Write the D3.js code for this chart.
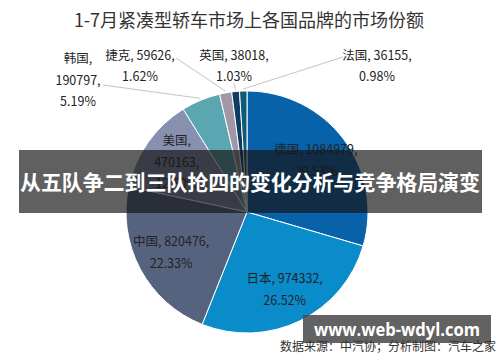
<!DOCTYPE html>
<meta charset="utf-8">
<head>
  <style>
    body { margin: 0; background: #fff; }
    svg { display: block; font-family: "Noto Sans CJK SC", "Noto Sans", sans-serif; }
    .title { font-size: 18px; fill: #333; }
    .lbl { font-size: 12.5px; fill: #222; }
    .lead { stroke: #c4c4c4; fill: none; stroke-width: 1; }
    .banner { fill: #fff; font-weight: bold; font-size: 21px; }
    .mark { fill: #fff; font-weight: bold; font-size: 18px; font-family: "Open Sans", "DejaVu Sans", sans-serif; }
    .src { font-size: 12px; fill: #333; }
  </style>
  <script src="https://cdn.jsdelivr.net/npm/d3@7"></script>
</head>
<body>
<script>

// data
var countries = ["德国", "日本", "中国", "美国", "韩国", "捷克", "英国", "法国"];
var sales = [1084979, 974332, 820476, 470163, 190797, 59626, 38018, 36155];
var shares = ["29.53%", "26.52%", "22.33%", "12.80%", "5.19%", "1.62%", "1.03%", "0.98%"];
var colors = ["#0762aa", "#0a8bca", "#56637f", "#8790ae", "#5aa6b1", "#a098a7", "#0c3b66", "#0f5a78"];

var width = 500, height = 362;
var cx = 247, cy = 212, radius = 121;

var svg = d3.select("body").append("svg")
    .attr("width", width)
    .attr("height", height);

svg.append("text")
    .attr("class", "title")
    .attr("x", 249).attr("y", 27)
    .attr("text-anchor", "middle")
    .text("1-7月紧凑型轿车市场上各国品牌的市场份额");

var pie = d3.pie().sort(null).value(function(d) { return d; });
var arcs = pie(sales);
var arc = d3.arc().innerRadius(0).outerRadius(radius);
var labelArc = d3.arc().innerRadius(86).outerRadius(86);

var g = svg.append("g").attr("transform", "translate(" + cx + "," + cy + ")");

g.selectAll("path")
  .data(arcs)
  .enter().append("path")
    .attr("d", arc)
    .attr("fill", function(d, i) { return colors[i]; })
    .attr("stroke", "#fff")
    .attr("stroke-width", 1);

// label text lines
function lines(i) {
  if (i == 3 || i == 4) return [countries[i] + ",", sales[i] + ",", shares[i]];
  return [countries[i] + ", " + sales[i] + ",", shares[i]];
}

// outside label placement (small slices), in page coords
var outside = { 4: [78, 80], 5: [140, 66], 6: [234, 66], 7: [377, 66] };
var lineH = 21.5;

arcs.forEach(function(d, i) {
  var ls = lines(i), x, y;
  if (outside[i]) {
    x = outside[i][0]; y = outside[i][1];
    // leader line from label to slice edge
    var mid = (d.startAngle + d.endAngle) / 2;
    var ex = cx + (radius + 2) * Math.sin(mid), ey = cy - (radius + 2) * Math.cos(mid);
    var sx, sy;
    if (i == 4) { sx = x + 25; sy = y + 5; }
    else if (i == 5) { sx = x + 36; sy = y - 8; }
    else if (i == 6) { sx = x; sy = y + 17; }
    else { sx = x - 34; sy = y - 9; }
    svg.append("path").attr("class", "lead")
      .attr("d", d3.line()([[sx, sy], [ex, ey]]));
  } else {
    var c = labelArc.centroid(d);
    x = cx + c[0]; y = cy + c[1];
  }
  var t = svg.append("text").attr("class", "lbl")
    .attr("text-anchor", "middle");
  ls.forEach(function(s, k) {
    t.append("tspan")
      .attr("x", x)
      .attr("y", y + (k - (ls.length - 1) / 2) * lineH + 4.5)
      .text(s);
  });
});

// overlay banner
svg.append("rect")
    .attr("x", 19).attr("y", 150).attr("width", 463).attr("height", 63)
    .attr("fill", "rgba(20,20,20,0.68)");
svg.append("text")
    .attr("class", "banner")
    .attr("x", 250).attr("y", 190)
    .attr("text-anchor", "middle")
    .attr("textLength", 460)
    .text("从五队争二到三队抢四的变化分析与竞争格局演变");

// watermark
svg.append("rect")
    .attr("x", 303).attr("y", 315).attr("width", 188).attr("height", 28)
    .attr("fill", "rgba(70,70,70,0.85)");
svg.append("text")
    .attr("class", "mark")
    .attr("x", 397).attr("y", 336)
    .attr("text-anchor", "middle")
    .attr("textLength", 166)
    .attr("lengthAdjust", "spacingAndGlyphs")
    .text("www.web-wdyl.com");

svg.append("text")
    .attr("class", "src")
    .attr("x", 496).attr("y", 351)
    .attr("text-anchor", "end")
    .text("数据来源：中汽协；分析制图：汽车之家");

</script>
</body>
